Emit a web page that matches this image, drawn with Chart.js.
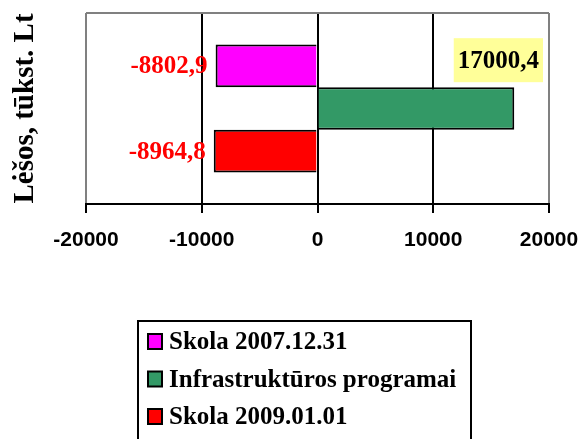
<!DOCTYPE html>
<html>
<head>
<meta charset="utf-8">
<script src="https://cdn.jsdelivr.net/npm/chart.js@4"></script>
<style>
  html, body { margin: 0; padding: 0; background: #fff; }
  #wrap { width: 581px; height: 439px; }
</style>
</head>
<body>
<div id="wrap"><canvas id="balanceChart" width="581" height="439"></canvas></div>
<script>
// data
const categories = [''];
const seriesNames = ['Skola 2007.12.31', 'Infrastruktūros programai', 'Skola 2009.01.01'];
const debt2007 = [-8802.9];
const infraProgram = [17000.4];
const debt2009 = [-8964.8];
const xTicks = [-20000, -10000, 0, 10000, 20000];
const yTitle = 'Lėšos, tūkst. Lt';

const serif = '"Liberation Serif", "Times New Roman", serif';
const sans = '"Liberation Sans", Arial, sans-serif';

function fmt(v) {
    return v.toFixed(1).replace('.', ',');
}

// gray frame on top of the plot
const framePlugin = {
    id: 'frame',
    beforeDatasetsDraw(chart) {
        const a = chart.chartArea, ctx = chart.ctx;
        ctx.save();
        ctx.strokeStyle = '#808080';
        ctx.lineWidth = 2;
        ctx.beginPath();
        ctx.moveTo(a.left, a.top);
        ctx.lineTo(a.right, a.top);
        ctx.stroke();
        ctx.restore();
    }
};

// value labels next to the bars
const valueLabels = {
    id: 'valueLabels',
    afterDatasetsDraw(chart) {
        const ctx = chart.ctx;
        ctx.save();
        chart.data.datasets.forEach(function (ds, i) {
            const bar = chart.getDatasetMeta(i).data[0];
            const v = ds.data[0];
            ctx.font = 'bold 25px ' + serif;
            ctx.textBaseline = 'middle';
            if (v < 0) {
                ctx.fillStyle = '#ff0000';
                ctx.textAlign = 'right';
                ctx.fillText(fmt(v), Math.min(bar.x, bar.base) - 8, bar.y + 1);
            } else {
                const txt = fmt(v);
                const w = ctx.measureText(txt).width;
                const right = chart.chartArea.right - 6;
                const cy = bar.y - bar.height / 2 - 27;
                ctx.fillStyle = '#ffff99';
                ctx.fillRect(right - w - 8, cy - 22, w + 8, 44);
                ctx.fillStyle = '#000';
                ctx.textAlign = 'center';
                ctx.fillText(txt, right - (w + 8) / 2, cy + 1);
            }
        });
        ctx.restore();
    }
};

// boxed legend under the chart
const boxLegend = {
    id: 'boxLegend',
    afterDraw(chart) {
        const ctx = chart.ctx;
        ctx.save();
        ctx.strokeStyle = '#000';
        ctx.lineWidth = 2;
        ctx.strokeRect(138, 321, 333, 130);
        ctx.font = 'bold 25px ' + serif;
        ctx.textBaseline = 'middle';
        ctx.textAlign = 'left';
        chart.data.datasets.forEach(function (ds, i) {
            const y = 342 + i * 37.5;
            ctx.fillStyle = ds.backgroundColor;
            ctx.fillRect(148, y - 8, 14, 15);
            ctx.lineWidth = 2;
            ctx.strokeRect(148, y - 8, 14, 15);
            ctx.fillStyle = '#000';
            ctx.fillText(ds.label, 169, y + 1);
        });
        ctx.restore();
    }
};

new Chart(document.getElementById('balanceChart'), {
    type: 'bar',
    data: {
        labels: categories,
        datasets: [
            {
                label: seriesNames[0],
                data: debt2007,
                backgroundColor: '#ff00ff',
                borderColor: '#000',
                borderWidth: 2
            },
            {
                label: seriesNames[1],
                data: infraProgram,
                backgroundColor: '#339966',
                borderColor: '#000',
                borderWidth: 2
            },
            {
                label: seriesNames[2],
                data: debt2009,
                backgroundColor: '#ff0000',
                borderColor: '#000',
                borderWidth: 2
            }
        ]
    },
    options: {
        indexAxis: 'y',
        responsive: false,
        animation: false,
        categoryPercentage: 0.67,
        barPercentage: 1,
        layout: { padding: { top: 13, right: 32, left: 0, bottom: 0 } },
        plugins: {
            legend: { display: false },
            tooltip: { enabled: false }
        },
        scales: {
            x: {
                min: xTicks[0],
                max: xTicks[xTicks.length - 1],
                afterBuildTicks: function (scale) {
                    scale.ticks = xTicks.map(function (v) { return { value: v }; });
                },
                afterFit: function (scale) {
                    scale.height = 439 - 204;
                    scale.paddingLeft = 0;
                    scale.paddingRight = 0;
                },
                grid: {
                    color: function (c) {
                        const v = c.tick ? c.tick.value : 0;
                        return (v === xTicks[0] || v === xTicks[xTicks.length - 1]) ? '#808080' : '#000';
                    },
                    lineWidth: 2,
                    tickLength: 9,
                    tickColor: '#000'
                },
                border: { color: '#000', width: 2 },
                ticks: {
                    padding: 15,
                    color: '#000',
                    font: { family: sans, size: 21, weight: 'bold' },
                    callback: function (v) { return String(v); }
                }
            },
            y: {
                afterFit: function (scale) { scale.width = 86; },
                grid: { display: false },
                border: { display: false },
                ticks: { display: false },
                title: {
                    display: true,
                    text: yTitle,
                    color: '#000',
                    font: { family: serif, size: 29, weight: 'bold' },
                    padding: { top: 8, bottom: 0 }
                }
            }
        }
    },
    plugins: [framePlugin, valueLabels, boxLegend]
});
</script>
</body>
</html>
